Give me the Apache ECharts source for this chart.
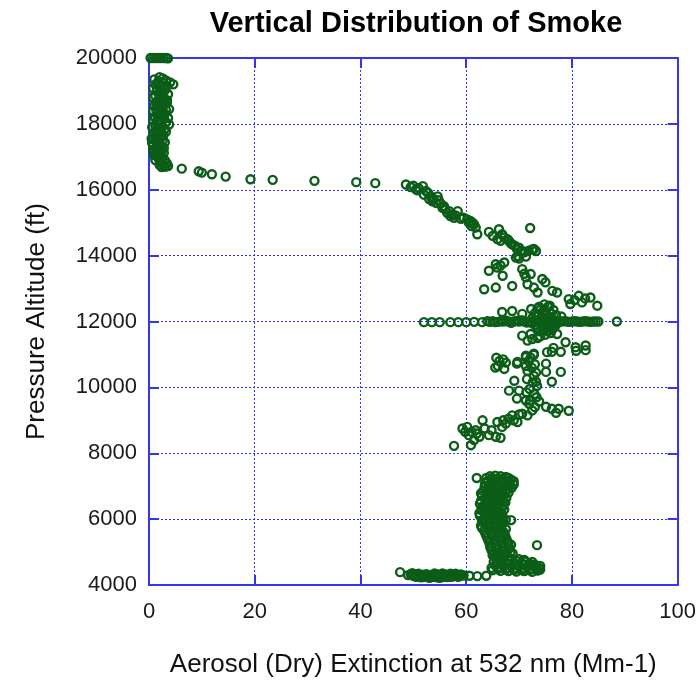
<!DOCTYPE html>
<html>
<head>
<meta charset="utf-8">
<script src="https://cdn.jsdelivr.net/npm/echarts@6/dist/echarts.min.js"></script>
<style>
html,body{margin:0;padding:0;background:#fff;}
#chart{width:699px;height:683px;}
</style>
</head>
<body>
<div id="chart"></div>
<script>
var titleText = 'Vertical Distribution of Smoke';
var xName = 'Aerosol (Dry) Extinction at 532 nm (Mm-1)';
var yName = 'Pressure Altitude (ft)';
var xTicks = [0, 20, 40, 60, 80, 100];
var yTicks = [4000, 6000, 8000, 10000, 12000, 14000, 16000, 18000, 20000];

var top20000 = [[0.3,20000],[0.8,20000],[1.3,20000],[1.8,20000],[2.3,20000],[2.8,20000],[3.3,20000],[3.6,19990]];

var upperColumn = [[2.0,19420],[2.6,19380],[3.2,19320],[4.0,19260],[4.6,19200],[3.4,19150],[2.1,19100],[1.5,19050],[3.0,19020],[2.5,18950],[3.6,18900],[1.2,18850],[2.2,18800],[3.0,18740],[1.6,18700],[3.4,18650],[2.0,18600],[1.0,18550],[2.6,18500],[3.8,18450],[1.4,18400],[2.4,18350],[3.0,18300],[1.8,18250],[1.1,18200],[2.8,18150],[1.5,18100],[3.2,18050],[2.0,18000],[1.2,17950],[2.5,17900],[3.0,17850],[1.6,17800],[2.2,17750],[0.9,17700],[2.7,17650],[1.8,17600],[0.5,17550],[2.6,17500],[1.4,17450],[2.0,17400],[0.8,17350],[2.4,17300],[1.6,17250],[2.2,17200],[1.0,17150],[2.0,17100],[1.3,17050],[2.5,17000],[1.8,16950],[3.0,16900],[2.2,16850],[3.4,16800],[2.8,16750],[3.1,16700],[2.4,16690],
  [1.0,19350],[1.8,19300],[2.6,19250],[1.2,19200],[2.8,19130],[0.8,19080],[2.4,19000],[1.8,18920],[0.8,18800],[2.8,18780],[3.4,18720],[1.4,18620],[2.8,18580],[1.6,18520],[3.2,18420],[0.8,18380],[1.8,18320],[2.6,18220],[3.6,18180],[0.8,18120],[2.4,18080],[1.6,18020],[3.8,17980],[0.6,17900],[2.0,17860],[1.2,17820],[3.2,17760],[1.4,17680],[2.4,17600],[1.2,17520],[3.0,17440],[0.6,17420],[1.8,17340],[2.8,17260],[0.8,17220],[1.6,17160],[2.8,17120],[0.9,17060],[2.0,16990],[1.2,16900],[2.6,16800],[2.0,16760],[3.6,16720]];

var transition = [[6.2,16640],[9.4,16560],[10.0,16520],[11.9,16470],[14.5,16400],[19.2,16320],[23.4,16300],[31.3,16270],[39.2,16230],[42.8,16200]];

var diagonal = [[48.6,16160],[49.5,16080],[50.5,16010],[51.0,16050],[51.8,16110],[52.4,15960],[52.8,15900],[53.3,15800],[53.0,15720],[53.6,15650],[54.6,15800],[54.3,15600],[55.2,15580],[55.8,15500],[56.0,15420],[56.8,15350],[57.4,15250],[58.4,15350],[57.7,15150],[59.5,15150],[60.2,15100],[60.8,15050],[61.2,15000],[61.5,14950],[61.8,14850],[62.1,14650],[64.3,14720],[66.2,14800],[66.8,14650],[65.9,14500],[67.2,14550],[67.8,14500],[68.1,14450],[68.7,14340],[69.2,14300],[70.0,14240],[70.6,14140],[71.8,14150],[72.5,14190],[72.8,14200],[73.2,14140],[72.1,14840],[69.4,13940],[69.8,13980],[70.0,13910],[71.3,13970],
  [50.0,16120],[50.8,15980],[52.0,15850],[53.8,15720],[54.8,15680],[55.5,15450],[56.4,15300],[57.0,15200],[58.0,15220],[59.0,15120],[60.5,15000],[61.0,14900],[65.0,14600],[66.5,14450],[68.4,14380],[69.6,14200],[71.0,14100]];

var midScatter = [[65.6,13740],[67.2,13790],[66.5,13700],[64.3,13540],[65.9,13640],[66.9,13390],[63.4,12980],[65.6,13030],[68.7,13080],[70.6,13590],[71.0,13450],[72.2,13440],[71.3,13340],[71.6,13130],[72.8,13030],[74.4,13290],[75.0,13190],[76.3,12930],[77.2,12880],[73.5,12880],[79.4,12680],[80.5,12650],[81.3,12780],[81.9,12580],[82.5,12700],[83.5,12730],[84.8,12480],[79.7,12530]];

var line12000 = [[52.0,11980],[53.5,11980],[55.0,11980],[57.0,11980],[58.5,11980],[60.0,11980],[61.5,11990],[63.0,11980],[64.0,12010],[64.5,11990],[65.0,12010],[65.5,11980],[66.0,11990],[66.5,12010],[67.0,12000],[67.5,12030],[68.0,12000],[68.5,11960],[69.0,12000],[69.5,12020],[70.0,12000],[70.5,12040],[71.0,12000],[71.5,11970],[72.0,12000],[72.5,11950],[73.0,12000],[73.5,12030],[74.0,12000],[74.5,12040],[75.0,12000],[75.5,11970],[76.0,12000],[76.5,12020],[77.0,12000],[77.5,11990],[78.0,12000],[78.5,12010],[79.0,12000],[79.5,11990],[80.0,12000],[80.5,12010],[81.0,12000],[81.5,11990],[82.0,12000],[82.5,12010],[83.0,12000],[83.5,11990],[84.0,12000],[84.5,12000],[85.0,12000],[88.5,12000]];

var cluster12000 = [[66.8,12290],[68.7,12320],[70.6,12230],[72.3,12380],[73.5,12400],[74.5,12300],[75.5,12450],[76.5,12350],[75.0,12200],[74.3,12150],[76.0,12100],[75.5,11900],[74.5,11850],[76.5,11800],[77.0,11900],[74.0,11700],[70.6,11570],[72.2,11620],[71.6,11420],[72.5,11470],[73.5,11500],[76.3,11770],[77.2,11620],[78.8,11370],[80.7,11220],[82.6,11270],[76.5,11200],[75.3,11070],[72.8,11020],[71.3,10920],[69.7,10770],
  [72.5,12100],[73.5,12150],[74.5,12050],[75.5,12080],[76.5,12050],[73.0,11900],[74.0,11950],[75.0,11920],[76.0,11880],[73.5,11800],[74.5,11750],[75.5,11700],[76.0,11650],[75.0,11600],[74.0,11550],[73.0,12250],[74.0,12350],[75.0,12300],[76.0,12250],[77.0,12200],[78.0,12150],[73.8,12450],[74.8,12520],[75.8,12480]];

var band11000 = [[71.3,10960],[72.8,10990],[76.2,11080],[77.9,11080],[80.8,11110],[82.6,11130],[69.6,10720],[71.3,10650],[75.1,10720],[75.1,10470],[77.9,10470],[76.2,10170],[73.2,10170],[65.7,10900],[66.3,10800],[67.0,10850],[67.5,10750],[66.0,10650],[65.5,10600],[67.2,10560],[69.1,10200],[68.1,9900],[70.0,9900],[69.6,9660],[71.3,9600],[73.8,9570],[75.1,9410],[76.2,9350],[77.5,9350],[79.4,9290],[77.0,9230]];

var column73 = [[72.2,10900],[71.8,10800],[73.0,10700],[72.4,10600],[71.6,10500],[73.2,10450],[72.8,10350],[71.5,10250],[72.6,10150],[73.4,10050],[72.0,9950],[71.4,9850],[72.9,9800],[73.3,9700],[72.1,9600],[71.9,9500],[73.0,9400],[72.5,9300]];

var band8500 = [[57.7,8225],[59.3,8750],[59.8,8650],[60.2,8800],[60.5,8550],[60.9,8245],[61.0,8650],[61.5,8400],[61.8,8700],[62.0,8600],[62.5,8500],[63.1,9000],[63.5,8750],[64.3,8550],[64.8,8700],[65.6,8500],[65.9,8950],[66.5,8470],[66.8,8800],[67.0,9000],[67.5,8900],[68.0,9050],[68.7,9150],[69.0,9000],[69.7,8950],[70.0,9180],[70.6,9200],[71.6,9150]];

var lowerColumn = [[62.0,7250],[64.5,7300],[65.5,7320],[66.5,7300],[67.5,7280],[68.5,7200],[64.0,7150],[65.2,7180],[66.8,7150],[68.0,7100],[69.0,7050],[63.5,7000],[64.8,7020],[66.0,7000],[67.2,6980],[68.6,6950],[63.2,6850],[64.4,6880],[65.6,6860],[66.7,6840],[68.0,6800],[63.0,6700],[64.2,6720],[65.4,6700],[66.5,6680],[67.6,6650],[62.8,6550],[64.0,6560],[65.2,6540],[66.4,6520],[67.4,6500],[63.2,6400],[64.4,6420],[65.6,6380],[66.8,6360],[63.0,6250],[64.2,6260],[65.3,6240],[66.5,6220],[62.6,6100],[63.8,6120],[65.0,6100],[66.2,6080],[63.0,5950],[64.2,5980],[65.4,5960],[66.6,5940],[67.5,5980],[68.5,5970],[62.8,5800],[64.0,5820],[65.2,5800],[66.4,5780],[63.4,5650],[64.6,5660],[65.8,5640],[67.0,5620],[63.8,5500],[65.0,5520],[66.2,5490],[67.4,5480],[64.2,5350],[65.4,5360],[66.6,5340],[67.8,5320],[64.5,5200],[65.7,5210],[66.9,5190],[68.5,5220],[73.4,5210],[64.8,5050],[66.0,5060],[67.2,5040],[68.4,5000],[65.0,4900],[66.2,4920],[67.4,4900],
  [63.8,7250],[65.0,7250],[66.0,7230],[67.0,7230],[68.0,7250],[69.0,7150],[63.6,7100],[64.6,7080],[65.8,7100],[66.9,7060],[68.2,7020],[64.2,6950],[65.4,6940],[66.5,6920],[67.8,6900],[62.8,6780],[63.9,6790],[64.9,6780],[66.0,6760],[67.1,6740],[63.6,6620],[64.7,6630],[65.8,6610],[66.9,6590],[62.6,6470],[63.7,6480],[64.9,6460],[66.0,6450],[67.0,6430],[62.9,6320],[63.9,6330],[65.0,6310],[66.0,6300],[67.2,6290],[62.5,6180],[63.5,6190],[64.6,6170],[65.7,6160],[66.8,6150],[63.5,6030],[64.6,6040],[65.7,6020],[66.8,6010],[63.4,5880],[64.5,5890],[65.8,5870],[66.9,5860],[63.0,5730],[64.2,5740],[65.3,5720],[66.5,5700],[67.5,5700],[63.6,5580],[64.8,5590],[66.0,5570],[67.2,5560],[64.0,5430],[65.2,5440],[66.4,5420],[67.6,5400],[64.4,5280],[65.6,5290],[66.8,5270],[68.0,5260],[64.6,5130],[65.8,5140],[67.0,5120],[68.2,5110],[65.2,4980],[66.4,4990],[67.6,4970],[68.8,4960],[65.6,4820],[66.8,4760],[68.0,4740]];

var bottomRight = [[65.5,4850],[67.0,4820],[68.5,4800],[70.0,4780],[71.0,4760],[66.0,4700],[67.5,4690],[69.0,4680],[70.5,4660],[72.0,4650],[73.0,4620],[65.5,4600],[67.0,4580],[68.5,4570],[70.0,4560],[71.5,4550],[73.0,4540],[73.8,4520],[66.0,4480],[67.5,4470],[69.0,4460],[70.5,4450],[72.0,4450],[73.5,4440],[65.0,4450],[68.0,4420],[71.0,4420],
  [66.5,4780],[69.5,4730],[71.0,4710],[72.5,4700],[66.5,4640],[68.0,4630],[69.5,4620],[71.0,4610],[72.5,4600],[74.0,4580],[66.5,4530],[68.0,4520],[69.5,4510],[71.0,4500],[72.5,4490],[74.0,4470],[66.5,4430],[69.5,4410],[72.5,4400],[64.8,4520],[65.2,4700]];

var bottomLeft = [[47.5,4390],[49.5,4330],[50.0,4280],[50.5,4310],[51.0,4260],[51.5,4300],[52.0,4250],[52.5,4280],[52.5,4330],[53.0,4250],[53.0,4220],[53.5,4300],[54.0,4260],[54.0,4350],[54.5,4320],[55.0,4250],[55.0,4220],[55.5,4300],[55.5,4350],[56.0,4260],[56.5,4290],[57.0,4250],[57.0,4340],[57.5,4310],[58.0,4340],[58.5,4300],[59.5,4290],[60.6,4280],[62.1,4270],[63.8,4280],
  [49.0,4300],[50.0,4320],[50.5,4250],[51.0,4340],[51.5,4230],[52.0,4310],[53.5,4240],[54.5,4230],[54.5,4280],[55.5,4240],[56.0,4320],[56.5,4240],[57.5,4260],[58.0,4280],[58.5,4250],[59.0,4320],[49.8,4360],[51.2,4290],[52.8,4300],[54.2,4310],[55.8,4280],[57.2,4300],[58.8,4290]];

var allSegments = [top20000, upperColumn, transition, diagonal, midScatter, line12000, cluster12000, band11000, column73, band8500, lowerColumn, bottomRight, bottomLeft];
var points = [];
allSegments.forEach(function(s){ points = points.concat(s); });

var blue = '#3535f0';
var gridBlue = '#3030ff';
var fam = 'Liberation Sans, Arial, sans-serif';
var labelStyle = {fontFamily: fam, fontSize: 22, color: '#1a1a1a'};

function mkX(pos, show) {
  return {
    type: 'value', position: pos, min: 0, max: 100, interval: 20,
    name: show ? xName : '', nameLocation: 'middle', nameGap: 67,
    nameTextStyle: {fontFamily: fam, fontSize: 26, color: '#111'},
    axisLine: {show: true, onZero: false, lineStyle: {color: blue, width: 2}},
    axisTick: {show: true, inside: true, length: 10, lineStyle: {color: blue, width: 2}},
    axisLabel: Object.assign({show: show, margin: 16, formatter: function(v){ return xTicks.indexOf(v) >= 0 ? String(v) : ''; }}, labelStyle),
    splitLine: {show: show, lineStyle: {color: gridBlue, type: [2, 2], width: 1}}
  };
}
function mkY(pos, show) {
  return {
    type: 'value', position: pos, min: 4000, max: 20000, interval: 2000,
    name: show ? yName : '', nameLocation: 'middle', nameGap: 99, nameRotate: 90,
    nameTextStyle: {fontFamily: fam, fontSize: 26, color: '#111'},
    axisLine: {show: true, onZero: false, lineStyle: {color: blue, width: 2}},
    axisTick: {show: true, inside: true, length: 10, lineStyle: {color: blue, width: 2}},
    axisLabel: Object.assign({show: show, margin: 12, formatter: function(v){ return yTicks.indexOf(v) >= 0 ? String(v) : ''; }}, labelStyle),
    splitLine: {show: show, lineStyle: {color: gridBlue, type: [2, 2], width: 1}}
  };
}

var chart = echarts.init(document.getElementById('chart'), null, {renderer: 'canvas'});
chart.setOption({
  backgroundColor: '#ffffff',
  animation: false,
  title: {
    text: titleText, left: 411, top: 4, textAlign: 'center',
    textStyle: {fontFamily: fam, fontWeight: 'bold', fontSize: 29, color: '#000'}
  },
  grid: {left: 149, right: 20, top: 58, bottom: 97, containLabel: false},
  xAxis: [mkX('bottom', true), mkX('top', false)],
  yAxis: [mkY('left', true), mkY('right', false)],
  series: [{
    type: 'scatter',
    xAxisIndex: 0, yAxisIndex: 0,
    data: points,
    symbol: 'circle',
    symbolSize: 8,
    clip: false,
    itemStyle: {color: 'rgba(255,255,255,0)', borderColor: '#0b5d17', borderWidth: 2.4, opacity: 1}
  }]
});
</script>
</body>
</html>
